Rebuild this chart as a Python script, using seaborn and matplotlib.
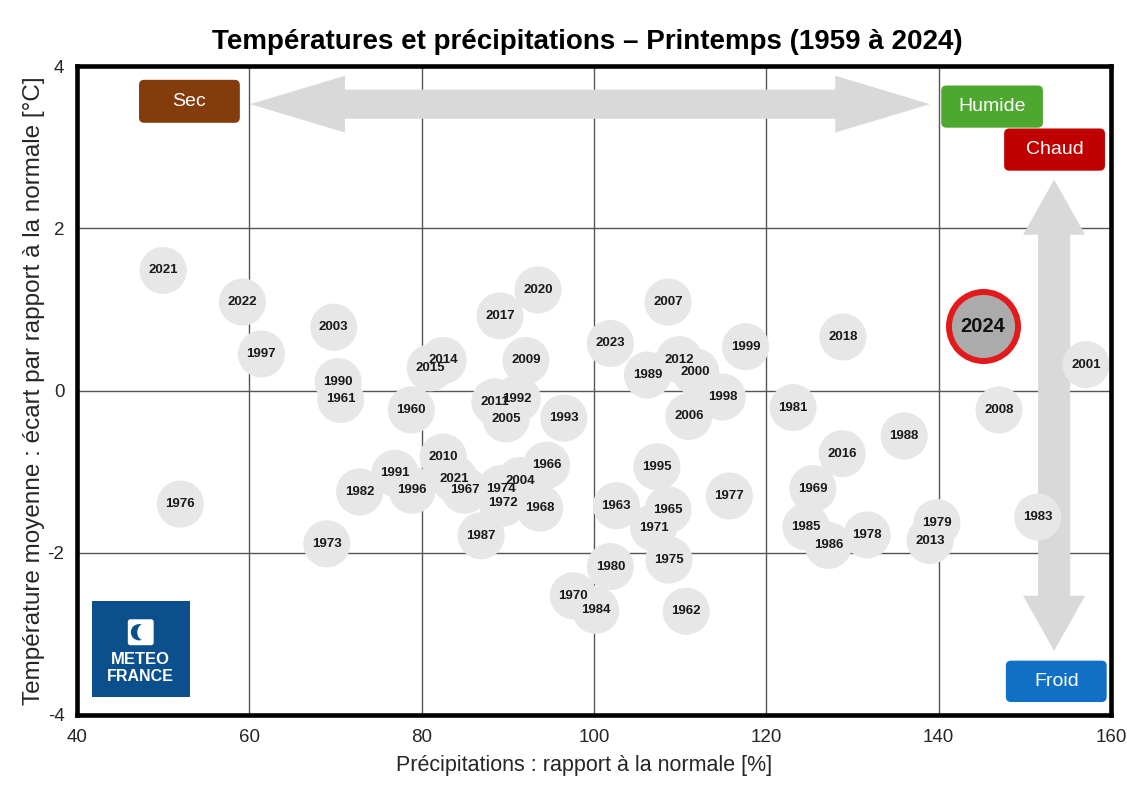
import matplotlib
matplotlib.use("Agg")
import matplotlib.pyplot as plt
import pandas as pd
import seaborn as sns
from matplotlib.patches import Polygon, FancyBboxPatch, Rectangle, Ellipse

# Valeurs (rapport à la normale en %, écart en °C)
annees = [
    "2021", "2022", "1997", "2003", "1990", "1961", "1960", "2014", "2015", "2009",
    "2017", "2020", "2011", "1992", "2005", "1993", "2023", "2010", "1991", "1996",
    "2021", "1967", "1974", "1966", "2004", "1972", "1968", "1963", "1987", "1982",
    "1973", "1976", "2007", "1989", "2012", "2000", "1999", "1998", "2006", "1981",
    "2018", "2001", "2008", "1988", "2016", "1969", "1985", "1986", "1978", "1979",
    "2013", "1983", "1977", "1995", "1965", "1971", "1975", "1980", "1970", "1984",
    "1962",
]
precip = [
    50.0, 59.2, 61.4, 69.8, 70.3, 70.6, 78.8, 82.5, 81.0, 92.1,
    89.1, 93.5, 88.5, 91.1, 89.8, 96.5, 101.9, 82.5, 76.9, 78.9,
    83.8, 85.0, 89.2, 94.5, 91.4, 89.4, 93.7, 102.6, 86.9, 72.8,
    69.0, 52.0, 108.6, 106.2, 109.9, 111.8, 117.6, 114.9, 111.0, 123.1,
    128.9, 157.1, 147.0, 136.0, 128.8, 125.4, 124.6, 127.2, 131.7, 139.8,
    139.0, 151.5, 115.7, 107.3, 108.6, 106.9, 108.7, 101.9, 97.6, 100.2,
    110.7,
]
temp = [
    1.48, 1.09, 0.45, 0.78, 0.11, -0.11, -0.24, 0.37, 0.28, 0.37,
    0.92, 1.24, -0.14, -0.10, -0.35, -0.34, 0.58, -0.82, -1.02, -1.23,
    -1.09, -1.23, -1.21, -0.92, -1.11, -1.39, -1.45, -1.42, -1.79, -1.25,
    -1.89, -1.40, 1.09, 0.19, 0.38, 0.23, 0.54, -0.08, -0.32, -0.21,
    0.66, 0.32, -0.24, -0.56, -0.78, -1.21, -1.68, -1.91, -1.78, -1.63,
    -1.85, -1.56, -1.30, -0.94, -1.47, -1.69, -2.09, -2.17, -2.53, -2.71,
    -2.72,
]

annee_focus = ["2024"]
precip_focus = [145.1]
temp_focus = [0.79]

x_ticks = [40, 60, 80, 100, 120, 140, 160]
y_ticks = [-4, -2, 0, 2, 4]

titre = "Températures et précipitations – Printemps (1959 à 2024)"
label_x = "Précipitations : rapport à la normale [%]"
label_y = "Température moyenne : écart par rapport à la normale [°C]"

df = pd.DataFrame({"annee": annees, "precip": precip, "temp": temp})
df_focus = pd.DataFrame({"annee": annee_focus, "precip": precip_focus, "temp": temp_focus})

sns.set_theme(style="white")
plt.rcParams["font.family"] = ["Liberation Sans", "DejaVu Sans"]
plt.rcParams["axes.unicode_minus"] = False

fig = plt.figure(figsize=(11.27, 7.87), dpi=100)
ax = fig.add_axes([0.0683, 0.0915, 0.9175, 0.8246])

ax.set_xlim(40, 160)
ax.set_ylim(-4, 4)
ax.set_xticks(x_ticks)
ax.set_yticks(y_ticks)
ax.grid(True, color="#555555", linewidth=1.0, zorder=0)
ax.set_axisbelow(True)
ax.tick_params(axis="both", length=0, labelsize=13.5, colors="#262626")
ax.tick_params(axis="x", pad=10)
ax.tick_params(axis="y", pad=9)
for sp in ax.spines.values():
    sp.set_color("black")
    sp.set_linewidth(3.3)
    sp.set_zorder(10)

ax.set_xlabel(label_x, fontsize=15.5, color="#262626", labelpad=5)
ax.xaxis.set_label_coords(0.4905, -0.062)
ax.set_ylabel(label_y, fontsize=17.5, color="#262626", labelpad=2)
fig.text(587 / 1127, 1 - 42 / 787, titre, ha="center", va="center",
         fontsize=20, fontweight="bold", color="black")

GRIS_FLECHE = "#d9d9d9"


def fleche_h(x0, x1, yc, tete, dt, dg):
    pts = [(x0, yc), (x0 + tete, yc + dt), (x0 + tete, yc + dg), (x1 - tete, yc + dg),
           (x1 - tete, yc + dt), (x1, yc), (x1 - tete, yc - dt), (x1 - tete, yc - dg),
           (x0 + tete, yc - dg), (x0 + tete, yc - dt)]
    ax.add_patch(Polygon(pts, closed=True, color=GRIS_FLECHE, lw=0, zorder=2))


def fleche_v(xc, y0, y1, tete, dt, dg):
    pts = [(xc, y0), (xc + dt, y0 + tete), (xc + dg, y0 + tete), (xc + dg, y1 - tete),
           (xc + dt, y1 - tete), (xc, y1), (xc - dt, y1 - tete), (xc - dg, y1 - tete),
           (xc - dg, y0 + tete), (xc - dt, y0 + tete)]
    ax.add_patch(Polygon(pts, closed=True, color=GRIS_FLECHE, lw=0, zorder=2))


def boite(x0, x1, y0, y1, couleur, texte):
    ax.add_patch(FancyBboxPatch((x0, y0), x1 - x0, y1 - y0,
                                boxstyle="round,pad=0,rounding_size=0.6",
                                mutation_aspect=8.617 / 81.3,
                                facecolor=couleur, edgecolor="none", zorder=6))
    ax.text((x0 + x1) / 2, (y0 + y1) / 2, texte, ha="center", va="center",
            fontsize=14, color="white", zorder=7)


fleche_h(60.1, 139.0, 3.53, 11.0, 0.35, 0.18)
fleche_v(153.4, -3.21, 2.60, 0.68, 3.6, 1.86)

# bulles des années
sns.scatterplot(data=df, x="precip", y="temp", s=1150, color="#e7e7e7",
                edgecolor="none", linewidth=0, legend=False, ax=ax, zorder=3)
for _, r in df.iterrows():
    ax.text(r["precip"], r["temp"], r["annee"], ha="center", va="center",
            fontsize=9.5, fontweight="bold", color="#1a1a1a", zorder=4)

sns.scatterplot(data=df_focus, x="precip", y="temp", s=2470, color="#ababab",
                edgecolor="#e31a1c", linewidth=4.3, legend=False, ax=ax, zorder=5)
for _, r in df_focus.iterrows():
    ax.text(r["precip"], r["temp"], r["annee"], ha="center", va="center",
            fontsize=14.5, fontweight="bold", color="#111111", zorder=6)

boite(47.2, 58.9, 3.30, 3.83, "#843c0c", "Sec")
boite(140.3, 152.1, 3.24, 3.76, "#4ea72e", "Humide")
boite(147.6, 159.3, 2.71, 3.23, "#c00000", "Chaud")
boite(147.8, 159.5, -3.84, -3.33, "#0f70c5", "Froid")

# logo Météo-France
BLEU_LOGO = "#0b4f8c"
ax.add_patch(Rectangle((41.74, -3.78), 11.36, 1.19, facecolor=BLEU_LOGO,
                       edgecolor="none", zorder=6))
ax.add_patch(FancyBboxPatch((45.9, -3.14), 3.0, 0.32,
                            boxstyle="round,pad=0,rounding_size=0.3",
                            mutation_aspect=8.617 / 81.3,
                            facecolor="white", edgecolor="none", zorder=7))
ax.add_patch(Ellipse((47.2, -2.98), 1.9, 0.20, facecolor=BLEU_LOGO,
                     edgecolor="none", zorder=8))
ax.add_patch(Ellipse((47.75, -2.98), 1.5, 0.20, facecolor="white",
                     edgecolor="none", zorder=9))
ax.text(47.4, -3.31, "METEO", ha="center", va="center", fontsize=12,
        fontweight="bold", color="white", zorder=8)
ax.text(47.4, -3.53, "FRANCE", ha="center", va="center", fontsize=11.5,
        fontweight="bold", color="white", zorder=8)

fig.savefig("out.png", dpi=100, facecolor="white")
